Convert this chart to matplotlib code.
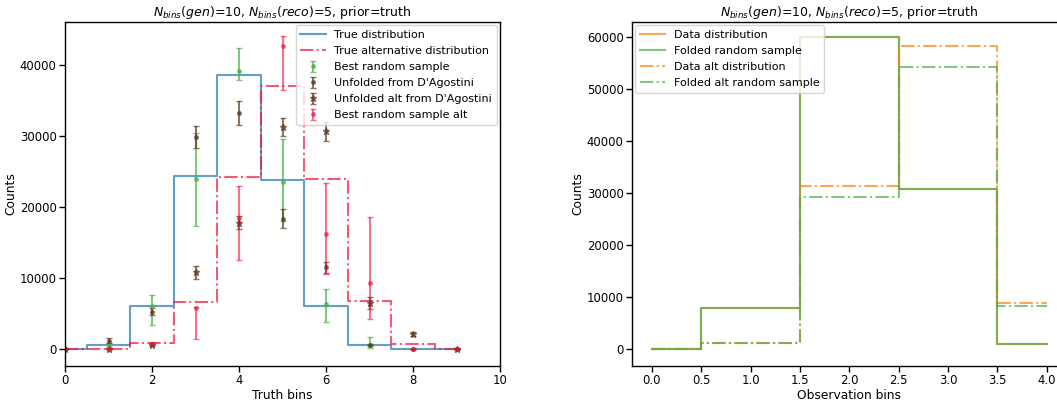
import matplotlib
matplotlib.use('Agg')
import matplotlib.pyplot as plt
import numpy as np

# ---- left panel: truth bins ----
truth_bins = np.arange(10)
true_dist = [0, 560, 6000, 24300, 38500, 23800, 6100, 560, 0, 0]
true_alt_dist = [0, 0, 800, 6600, 24200, 37000, 23900, 6700, 700, 0]

best_sample = [0, 560, 6080, 23860, 39060, 23540, 6320, 560, 0, 0]
best_sample_lo = [0, 300, 2670, 6500, 1260, 5500, 2490, 420, 0, 0]
best_sample_hi = [0, 300, 1540, 6500, 3280, 6000, 2100, 1080, 0, 0]

unfolded = [0, 1170, 5240, 29800, 33200, 18340, 11460, 560, 0, 0]
unfolded_err = [0, 400, 500, 1500, 1700, 1300, 800, 200, 0, 0]

unfolded_alt = [0, 0, 600, 10760, 17780, 31200, 30640, 6460, 2060, 0]
unfolded_alt_err = [0, 0, 200, 900, 900, 1300, 1350, 800, 300, 0]

best_alt = [0, 0, 700, 5750, 18480, 42670, 16140, 9260, 0, 0]
best_alt_lo = [0, 0, 200, 4350, 5950, 6180, 5610, 5050, 0, 0]
best_alt_hi = [0, 0, 200, 100, 4440, 1400, 7260, 9310, 0, 0]

# ---- right panel: observation bins ----
obs_bins = np.arange(5)
data_dist = [0, 7920, 60060, 30730, 960]
folded_sample = [0, 7920, 60060, 30730, 960]
data_alt_dist = [0, 1180, 31430, 58270, 8880]
folded_alt_sample = [0, 1180, 29200, 54250, 8300]

title = r'$N_{bins}(gen)$=10, $N_{bins}(reco)$=5, prior=truth'

plt.rcParams['font.size'] = 8.8
plt.rcParams['xtick.labelsize'] = 8.4
plt.rcParams['ytick.labelsize'] = 8.4
plt.rcParams['xtick.major.size'] = 4
plt.rcParams['ytick.major.size'] = 4
plt.rcParams['xtick.major.pad'] = 2
plt.rcParams['ytick.major.pad'] = 2
plt.rcParams['xtick.major.width'] = 1.0
plt.rcParams['ytick.major.width'] = 1.0
plt.rcParams['axes.linewidth'] = 1.0

blue = '#1f77b4'
red = '#f0143c'
green = '#4daf4a'
brown = '#5b3a1e'
orange = '#ff7f0e'

W, H = 1057, 400
fig = plt.figure(figsize=(W / 100, H / 100), dpi=100)
ax1 = fig.add_axes([65 / W, (H - 366) / H, 435 / W, 344 / H])
ax2 = fig.add_axes([632 / W, (H - 366) / H, 434.5 / W, 344 / H])

ebkw = dict(capsize=2, ms=5, elinewidth=1.5)

ax1.step(truth_bins, true_dist, where='mid', color=blue, alpha=0.7, lw=1.5,
         label='True distribution')
ax1.step(truth_bins, true_alt_dist, where='mid', color=red, alpha=0.7, lw=1.5,
         ls='-.', label='True alternative distribution')
ax1.errorbar(truth_bins, best_sample, yerr=[best_sample_lo, best_sample_hi],
             fmt='.', color=green, alpha=0.7, label='Best random sample', **ebkw)
ax1.errorbar(truth_bins, unfolded, yerr=unfolded_err, fmt='.', color=brown,
             alpha=0.7, label="Unfolded from D'Agostini", **ebkw)
ax1.errorbar(truth_bins, unfolded_alt, yerr=unfolded_alt_err, fmt='*', color=brown,
             alpha=0.7, label="Unfolded alt from D'Agostini", **ebkw)
ax1.errorbar(truth_bins, best_alt, yerr=[best_alt_lo, best_alt_hi], fmt='.',
             color=red, alpha=0.6, label='Best random sample alt', **ebkw)
ax1.set_xlim(0, 10)
ax1.set_ylim(-2400, 46000)
ax1.set_xticks([0, 2, 4, 6, 8, 10])
ax1.set_xlabel('Truth bins', labelpad=1)
ax1.set_ylabel('Counts', labelpad=2)
ax1.set_title(title, fontsize=9, pad=4)
ax1.legend(loc='upper right', fontsize=8, borderaxespad=0.3, handlelength=2.3,
           labelspacing=0.55)

ax2.step(obs_bins, data_dist, where='mid', color=orange, alpha=0.7, lw=1.5,
         label='Data distribution')
ax2.step(obs_bins, folded_sample, where='mid', color=green, alpha=0.7, lw=1.5,
         label='Folded random sample')
ax2.step(obs_bins, data_alt_dist, where='mid', color=orange, alpha=0.7, lw=1.5,
         ls='-.', label='Data alt distribution')
ax2.step(obs_bins, folded_alt_sample, where='mid', color=green, alpha=0.7, lw=1.5,
         ls='-.', label='Folded alt random sample')
ax2.set_xlim(-0.2, 4.2)
ax2.set_ylim(-3260, 62870)
ax2.set_xticks(np.arange(0, 4.01, 0.5))
ax2.set_xlabel('Observation bins', labelpad=1)
ax2.set_ylabel('Counts', labelpad=2)
ax2.set_title(title, fontsize=9, pad=4)
ax2.legend(loc='upper left', fontsize=8, borderaxespad=0.3, handlelength=2.3,
           labelspacing=0.55)

fig.savefig('out.png', dpi=100)
